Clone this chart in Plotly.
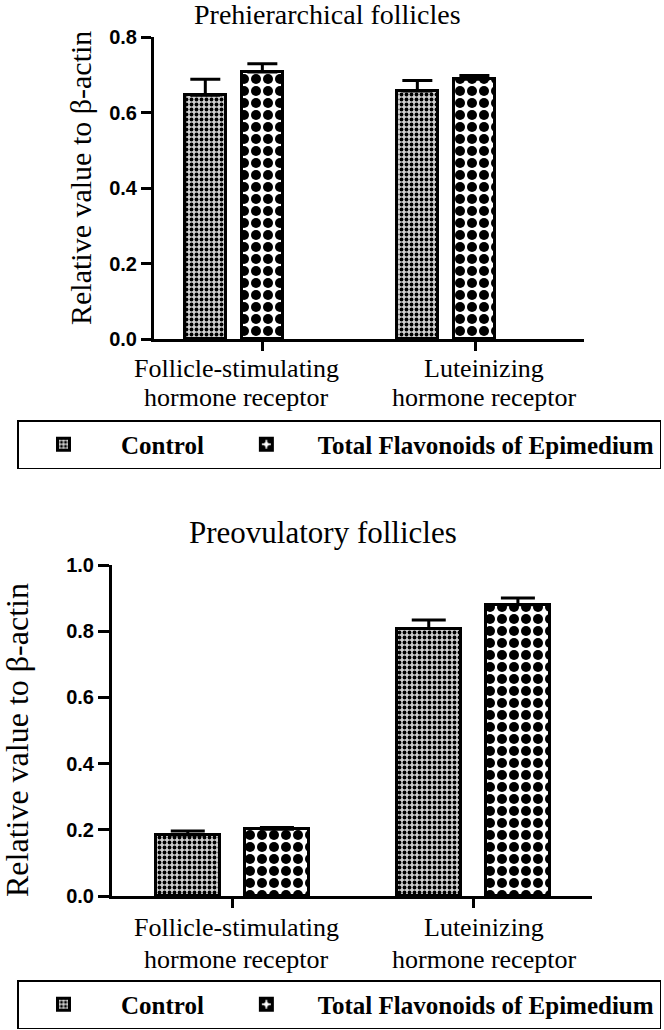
import plotly.graph_objects as go

category_lines = [["Follicle-stimulating", "hormone receptor"], ["Luteinizing", "hormone receptor"]]
series_names = ["Control", "Total Flavonoids of Epimedium"]
legend_labels = ["\u00a0\u00a0" + series_names[0] + "\u00a0\u00a0", "\u00a0" + series_names[1]]

pre_control = [0.646, 0.657]
pre_control_err = [0.042, 0.028]
pre_tfe = [0.707, 0.688]
pre_tfe_err = [0.022, 0.010]

preov_control = [0.184, 0.808]
preov_control_err = [0.012, 0.026]
preov_tfe = [0.202, 0.880]
preov_tfe_err = [0.005, 0.020]

titles = ["Prehierarchical follicles", "Preovulatory follicles"]
y_title = "Relative value to β-actin"
top_ticks = [0.0, 0.2, 0.4, 0.6, 0.8]
bottom_ticks = [0.0, 0.2, 0.4, 0.6, 0.8, 1.0]

W, H = 664, 1030
SERIF = "Liberation Serif"
TICKFONT = "Liberation Sans"

ctrl_pattern = dict(shape=".", fgcolor="black", bgcolor="#cfcfcf", fgopacity=1,
                    size=5, solidity=0.45)
tfe_pattern = dict(shape=".", fgcolor="black", bgcolor="white", fgopacity=1,
                   size=12, solidity=0.55)

fig = go.Figure()
xidx = [0, 1]

def add_pair(ctrl, ctrl_err, tfe, tfe_err, xa, ya, leg, offs, width, capw):
    fig.add_trace(go.Bar(
        x=xidx, y=ctrl, name=legend_labels[0], xaxis=xa, yaxis=ya, legend=leg,
        offset=offs[0], width=width,
        marker=dict(color="#cfcfcf", pattern=ctrl_pattern, line=dict(color="black", width=3)),
        error_y=dict(type="data", array=ctrl_err, arrayminus=[0, 0], symmetric=False,
                     color="black", thickness=3, width=capw),
    ))
    fig.add_trace(go.Bar(
        x=xidx, y=tfe, name=legend_labels[1], xaxis=xa, yaxis=ya, legend=leg,
        offset=offs[1], width=width,
        marker=dict(color="white", pattern=tfe_pattern, line=dict(color="black", width=3)),
        error_y=dict(type="data", array=tfe_err, arrayminus=[0, 0], symmetric=False,
                     color="black", thickness=3, width=capw),
    ))

add_pair(pre_control, pre_control_err, pre_tfe, pre_tfe_err, "x", "y", "legend",
         (-0.368, -0.099), 0.192, 15)
add_pair(preov_control, preov_control_err, preov_tfe, preov_tfe_err, "x2", "y2", "legend2",
         (-0.32, 0.05), 0.265, 17)

axis_common = dict(showline=True, linecolor="black", linewidth=3, showgrid=False,
                   zeroline=False, ticks="outside", tickcolor="black", tickwidth=3,
                   automargin=False)
xaxis_common = dict(tickvals=xidx, showticklabels=False, ticklen=9, **axis_common)
ytickfont = dict(family=TICKFONT, size=20, color="black", weight="bold")

legend_common = dict(orientation="h", xanchor="left", yanchor="top",
                     bordercolor="black", borderwidth=1.5, bgcolor="white",
                     font=dict(family=SERIF, size=25, color="black", weight="bold"),
                     itemwidth=80, traceorder="normal")

annotations = [
    dict(text=titles[0], x=327 / W, y=1 - 15 / H, font=dict(family=SERIF, size=28, color="black")),
    dict(text=titles[1], x=323 / W, y=1 - 532 / H, font=dict(family=SERIF, size=31, color="black")),
    dict(text=y_title, x=80 / W, y=1 - 178 / H, textangle=-90,
         font=dict(family=SERIF, size=30, color="black")),
    dict(text=y_title, x=17 / W, y=1 - 740 / H, textangle=-90,
         font=dict(family=SERIF, size=32, color="black")),
]
# category labels (two lines each) under each chart
label_x = [236, 484]
for line_y in ([368, 398], [927, 959]):
    for ci, lines in enumerate(category_lines):
        for li, txt in enumerate(lines):
            annotations.append(dict(text=txt, x=label_x[ci] / W, y=1 - line_y[li] / H,
                                    font=dict(family=SERIF, size=26, color="black")))
for a in annotations:
    a.update(xref="paper", yref="paper", xanchor="center", yanchor="middle", showarrow=False)

fig.update_layout(
    width=W, height=H, margin=dict(l=0, r=0, t=0, b=0, autoexpand=False),
    paper_bgcolor="white", plot_bgcolor="white",
    barmode="overlay", bargap=0,
    xaxis=dict(domain=[154 / W, 584 / W], range=[-0.514, 1.514], anchor="y", **xaxis_common),
    yaxis=dict(domain=[1 - 339 / H, 1 - 37 / H], range=[0, 0.8], anchor="x",
               tickvals=top_ticks, ticktext=[f"{v:.1f}" for v in top_ticks], ticklen=10,
               tickfont=ytickfont, **axis_common),
    xaxis2=dict(domain=[112 / W, 592 / W], range=[-0.502, 1.49], anchor="y2", **xaxis_common),
    yaxis2=dict(domain=[1 - 896 / H, 1 - 565 / H], range=[0, 1.0], anchor="x2",
                tickvals=bottom_ticks, ticktext=[f"{v:.1f}" for v in bottom_ticks], ticklen=11,
                tickfont=ytickfont, **axis_common),
    legend=dict(x=17 / W, y=1 - 420 / H, **legend_common),
    legend2=dict(x=17 / W, y=1 - 980 / H, **legend_common),
    annotations=annotations,
)

fig.write_html("out.html", post_script="document.body.style.margin='0';",
               config={"displayModeBar": False})
